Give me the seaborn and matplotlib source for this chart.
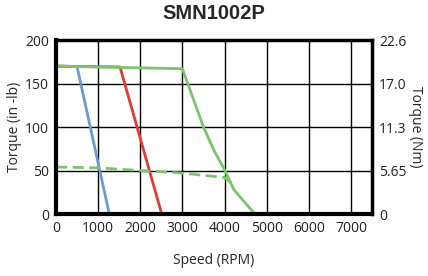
import pandas as pd
import seaborn as sns
import matplotlib.pyplot as plt

# speed (RPM) vs torque (in-lb) curves
blue_speed = [0, 500, 1265]
blue_torque = [170, 169.5, 0]

red_speed = [0, 1520, 2510]
red_torque = [170, 169, 0]

green_speed = [0, 3000, 3500, 3750, 4020, 4220, 4720]
green_torque = [170, 167, 100, 73, 49, 28, 0]

dash_speed = [0, 1000, 2000, 3000, 4000, 4180]
dash_torque = [54, 53, 50, 47, 42, 35]

right_ticks = [0, 50, 100, 150, 200]
right_labels = ['0', '5.65', '11.3', '17.0', '22.6']

sns.set_style('white')
plt.rcParams['font.family'] = ['Open Sans', 'DejaVu Sans']

fig = plt.figure(figsize=(4.28, 2.76), dpi=100)
ax = fig.add_axes([0.1308, 0.2246, 0.7384, 0.6304])

c_blue = '#6a9bd3'
c_red = '#e23b2f'
c_green = '#7cc46f'

sns.lineplot(x=blue_speed, y=blue_torque, ax=ax, color=c_blue, lw=2, sort=False)
sns.lineplot(x=red_speed, y=red_torque, ax=ax, color=c_red, lw=2, sort=False)
sns.lineplot(x=green_speed, y=green_torque, ax=ax, color=c_green, lw=2, sort=False)
sns.lineplot(x=dash_speed, y=dash_torque, ax=ax, color=c_green, lw=2,
             linestyle=(0, (4, 2)), sort=False)

ax.set_xlim(0, 7500)
ax.set_ylim(0, 200)
ax.set_xticks(range(0, 8000, 1000))
ax.set_yticks(right_ticks)
ax.grid(True, color='black', lw=1)
ax.set_axisbelow(True)
for s in ax.spines.values():
    s.set_color('black')
    s.set_linewidth(2.5)
ax.spines['left'].set_linewidth(3)
ax.spines['bottom'].set_linewidth(3)
ax.tick_params(labelsize=10, length=0, pad=5, colors='#222222')

ax2 = ax.twinx()
ax2.set_ylim(0, 200)
ax2.set_yticks(right_ticks)
ax2.set_yticklabels(right_labels)
ax2.tick_params(labelsize=10, length=0, pad=5, colors='#222222')
for s in ax2.spines.values():
    s.set_visible(False)

ax.set_xlabel('Speed (RPM)', fontsize=10, labelpad=12)
ax.set_ylabel('Torque (in -lb)', fontsize=10, labelpad=2)
ax2.set_ylabel('Torque (Nm)', fontsize=10, rotation=270, labelpad=12)
fig.suptitle('SMN1002P', fontsize=14.5, fontweight='bold',
             family=['Liberation Sans'], y=0.985)

fig.savefig('out.png', dpi=100)
